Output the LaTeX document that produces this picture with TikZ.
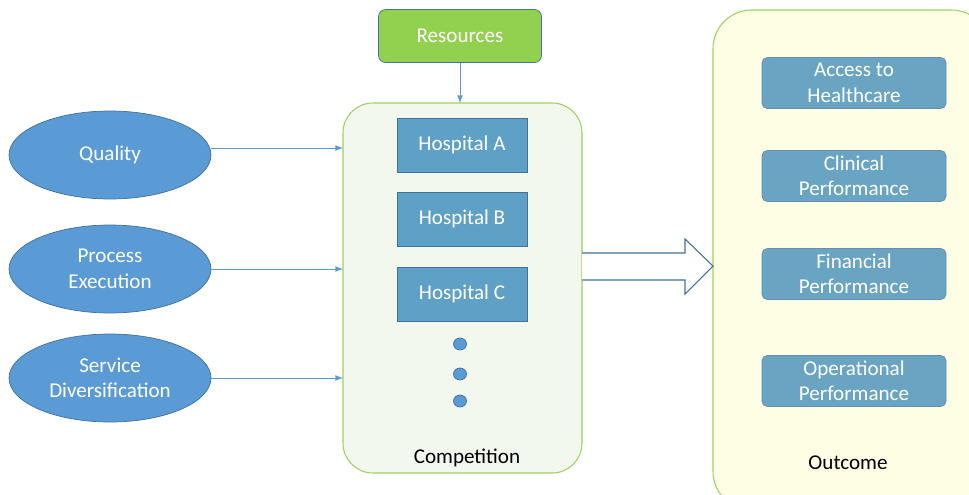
\documentclass[tikz,border=0pt]{standalone}
\usepackage{fontspec}
\setmainfont{Carlito}
\usetikzlibrary{shapes.geometric,shapes.arrows}
\definecolor{ovalblue}{HTML}{5B9BD5}
\definecolor{edgeblue}{HTML}{41719C}
\definecolor{hospblue}{HTML}{5FA0C6}
\definecolor{outblue}{HTML}{69A5C3}
\definecolor{resgreen}{HTML}{92D050}
\definecolor{linegreen}{HTML}{9DD262}
\definecolor{compfill}{HTML}{F3F8EE}
\definecolor{outfill}{HTML}{FEFEE5}
\definecolor{arrowblue}{HTML}{5B9BD5}
\begin{document}
\begin{tikzpicture}[x=0.02cm,y=-0.02cm,font=\fontsize{12}{14.5}\selectfont]
       \tikzset{>=latex,
         factor/.style={ellipse, draw=edgeblue, fill=ovalblue, text=white, align=center,
                        minimum width=202*0.02cm, minimum height=88*0.02cm, inner sep=0pt},
         hosp/.style={draw=edgeblue, fill=hospblue, text=white,
                      minimum width=130*0.02cm, minimum height=54*0.02cm},
         result/.style={draw=edgeblue!80, fill=outblue, text=white, rounded corners=3pt, align=center,
                        minimum width=184*0.02cm, minimum height=51*0.02cm, inner sep=0pt},
         dot/.style={ellipse, draw=edgeblue, fill=ovalblue, minimum width=13*0.02cm,
                     minimum height=12*0.02cm, inner sep=0pt},
         link/.style={->, arrowblue, line width=0.5pt}}
       \useasboundingbox (0,0) rectangle (969,494);
       \clip (0,0) rectangle (969,494);

       % outer boxes
       \draw[linegreen, fill=compfill, rounded corners=17pt, line width=0.6pt] (343,103) rectangle (582,473);
       \draw[linegreen, fill=outfill, rounded corners=22pt, line width=0.6pt] (713,10) rectangle (990,510);
       \node[] (comp) at (467,458) {Competition};
       \node[] (out) at (848,463) {Outcome};

       \node[factor] (quality) at (110,155) {Quality};
       \node[factor] (process) at (110,269) {Process\\Execution};
       \node[factor] (service) at (110,378) {Service\\Diversification};

       \node[draw=edgeblue, fill=resgreen, text=white, rounded corners=4pt,
             minimum width=163*0.02cm, minimum height=53*0.02cm] (res) at (460,36) {Resources};

       \node[hosp] (hospA) at (462,145) {Hospital A};
       \node[hosp] (hospB) at (462,219) {Hospital B};
       \node[hosp] (hospC) at (462,294) {Hospital C};
       \node[dot] (d1) at (460,344) {};
       \node[dot] (d2) at (460,374) {};
       \node[dot] (d3) at (460,401) {};

       \node[result] (access) at (854,83) {Access to\\Healthcare};
       \node[result] (clinic) at (854,176) {Clinical\\Performance};
       \node[result] (finance) at (854,274) {Financial\\Performance};
       \node[result] (oper) at (854,381) {Operational\\Performance};

       % connectors
       \coordinate (qin) at (343,148);
       \coordinate (pin) at (343,269);
       \coordinate (sin) at (343,378);
       \coordinate (rin) at (460,103);
       \draw[link] (quality.east |- qin) -- (qin);
       \draw[link] (process.east) -- (pin);
       \draw[link] (service.east) -- (sin);
       \draw[link] (res.south) -- (rin);

       % block arrow
       \draw[edgeblue, fill=white, line width=0.6pt]
         (582,253) -- (685,253) -- (685,239) -- (713,266) -- (685,294) -- (685,280) -- (582,280);
\end{tikzpicture}
\end{document}
